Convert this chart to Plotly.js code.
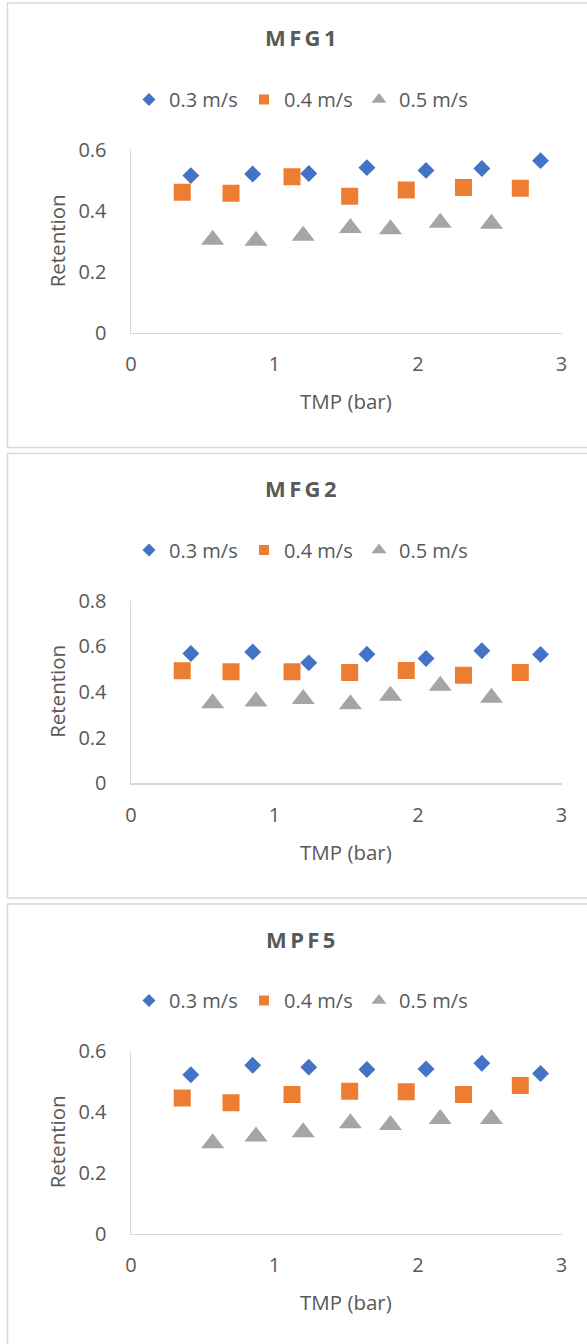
<!DOCTYPE html>
<html>
<head>
<meta charset="utf-8">
<script src="https://cdn.plot.ly/plotly-3.0.1.min.js"></script>
<style>
  html, body { margin: 0; padding: 0; background: #ffffff; }
  #chart { width: 587px; height: 1344px; }
</style>
</head>
<body>
<div id="chart"></div>
<script>
// ---------- data ----------
const panelTitles = ["MFG1", "MFG2", "MPF5"];
const seriesNames = ["0.3 m/s", "0.4 m/s", "0.5 m/s"];

// TMP (bar) for each velocity series
const tmp03 = [0.417, 0.848, 1.239, 1.644, 2.056, 2.445, 2.854];
const tmp04 = [0.357, 0.697, 1.122, 1.524, 1.918, 2.317, 2.713];
const tmp05 = [0.569, 0.871, 1.200, 1.529, 1.808, 2.155, 2.512];

// Retention values
const mfg1_03 = [0.516, 0.521, 0.523, 0.542, 0.533, 0.539, 0.565];
const mfg1_04 = [0.461, 0.458, 0.512, 0.448, 0.469, 0.477, 0.474];
const mfg1_05 = [0.305, 0.302, 0.318, 0.344, 0.340, 0.361, 0.358];

const mfg2_03 = [0.568, 0.575, 0.527, 0.565, 0.546, 0.580, 0.564];
const mfg2_04 = [0.492, 0.488, 0.488, 0.485, 0.493, 0.473, 0.485];
const mfg2_05 = [0.350, 0.358, 0.369, 0.346, 0.383, 0.427, 0.374];

const mpf5_03 = [0.522, 0.553, 0.547, 0.539, 0.541, 0.560, 0.526];
const mpf5_04 = [0.446, 0.430, 0.457, 0.468, 0.466, 0.457, 0.487];
const mpf5_05 = [0.297, 0.319, 0.333, 0.363, 0.357, 0.377, 0.377];

const yMax = [0.6, 0.8, 0.6];
const xTicks = [0, 1, 2, 3];

// ---------- styling ----------
const W = 587, H = 1344;
const FONT = '"Open Sans", "Noto Sans", sans-serif';
const TXT = '#595959';
const AXLINE = '#d9d9d9';
const colors = ['#4472C4', '#ED7D31', '#A5A5A5'];
const symbols = ['diamond', 'square', 'triangle-up'];
const sizes = [13, 17, 20];
const legendSizes = [10, 10, 13];

const PANEL_STEP = 450.5;       // px between panels
const plotTop0 = 150, plotBot0 = 332.7;
const axLeft = 131, axRight = 561.5;

const tmps = [tmp03, tmp04, tmp05];
const vals = [[mfg1_03, mfg1_04, mfg1_05], [mfg2_03, mfg2_04, mfg2_05], [mpf5_03, mpf5_04, mpf5_05]];

const py = p => 1 - p / H;
const px = p => p / W;

const traces = [];
const layout = {
  width: W, height: H,
  margin: {l: 0, r: 0, t: 0, b: 0},
  paper_bgcolor: '#ffffff',
  plot_bgcolor: 'rgba(0,0,0,0)',
  font: {family: FONT, color: TXT, size: 20},
  showlegend: true,
  annotations: [],
  shapes: []
};

const borders = [[3, 447.5], [453.5, 898], [904, 1350]];
const gap = '<span style="font-size:13px"> </span>';

for (let p = 0; p < 3; p++) {
  const off = p * PANEL_STEP;
  const xn = p === 0 ? '' : String(p + 1);
  const xa = 'x' + xn, ya = 'y' + xn;
  const lg = 'legend' + xn;

  layout['xaxis' + xn] = {
    domain: [px(axLeft), px(axRight)],
    anchor: ya,
    range: [0, 3],
    tickvals: xTicks,
    ticks: '',
    ticklabelstandoff: 13,
    showgrid: false, zeroline: false,
    showline: true, linecolor: AXLINE, linewidth: 1.5,
    tickfont: {family: FONT, size: 20, color: TXT},
    fixedrange: true
  };
  layout['yaxis' + xn] = {
    domain: [py(plotBot0 + off), py(plotTop0 + off)],
    anchor: xa,
    range: [0, yMax[p]],
    tick0: 0, dtick: 0.2,
    ticks: '',
    ticklabelstandoff: 19,
    showgrid: false, zeroline: false,
    showline: true, linecolor: AXLINE, linewidth: 1.5,
    tickfont: {family: FONT, size: 20, color: TXT},
    fixedrange: true
  };

  for (let s = 0; s < 3; s++) {
    traces.push({
      type: 'scatter', mode: 'markers',
      x: tmps[s], y: vals[p][s],
      xaxis: xa, yaxis: ya,
      name: seriesNames[s],
      showlegend: false,
      marker: {symbol: symbols[s], size: sizes[s], color: colors[s], line: {width: 0}},
      hoverinfo: 'x+y'
    });
  }
  // legend entries
  for (let s = 0; s < 3; s++) {
    traces.push({
      type: 'scatter', mode: 'markers',
      x: [null], y: [null],
      xaxis: xa, yaxis: ya,
      name: seriesNames[s],
      legend: lg,
      showlegend: true,
      marker: {symbol: symbols[s], size: legendSizes[s], color: colors[s], line: {width: 0}}
    });
  }

  layout[lg] = {
    orientation: 'h',
    x: px(129), xanchor: 'left',
    y: py(99.5 + off), yanchor: 'middle',
    font: {family: FONT, size: 20, color: TXT},
    entrywidth: 70,
    bgcolor: 'rgba(0,0,0,0)',
    borderwidth: 0,
    traceorder: 'normal'
  };

  // chart title
  layout.annotations.push({
    xref: 'paper', yref: 'paper',
    x: px(300.5), y: py(37.5 + off),
    xanchor: 'center', yanchor: 'middle',
    text: '<b>' + panelTitles[p].split('').join(gap) + '</b>',
    showarrow: false,
    font: {family: FONT, size: 22, color: TXT}
  });
  // x axis title
  layout.annotations.push({
    xref: 'paper', yref: 'paper',
    x: px((axLeft + axRight) / 2), y: py(401 + off),
    xanchor: 'center', yanchor: 'middle',
    text: 'TMP (bar)', showarrow: false,
    font: {family: FONT, size: 20.5, color: TXT}
  });
  // y axis title
  layout.annotations.push({
    xref: 'paper', yref: 'paper',
    x: px(57), y: py((plotTop0 + plotBot0) / 2 + off),
    xanchor: 'center', yanchor: 'middle',
    text: 'Retention', showarrow: false, textangle: -90,
    font: {family: FONT, size: 20.5, color: TXT}
  });
  // chart border
  layout.shapes.push({
    type: 'rect', xref: 'paper', yref: 'paper',
    x0: px(7.5), x1: px(600),
    y0: py(borders[p][1]), y1: py(borders[p][0]),
    line: {color: '#d9d9d9', width: 1.5},
    fillcolor: 'rgba(0,0,0,0)', layer: 'below'
  });
}

Plotly.newPlot('chart', traces, layout, {staticPlot: true, displayModeBar: false});
</script>
</body>
</html>
